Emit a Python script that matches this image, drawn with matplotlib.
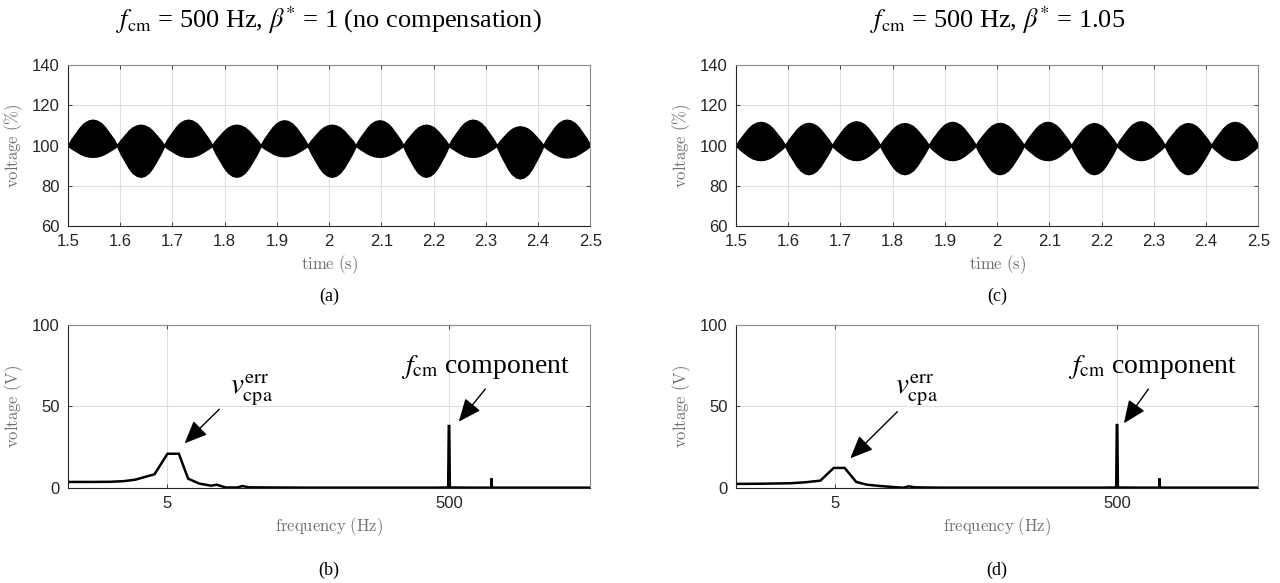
import numpy as np
import matplotlib
matplotlib.use("Agg")
import matplotlib.pyplot as plt
from matplotlib.ticker import FixedLocator, NullLocator, FuncFormatter

# ---- data ------------------------------------------------------------------
# node times where the envelope pinches to 100 %
lobe_nodes = [1.5, 1.594, 1.684, 1.776, 1.869, 1.959, 2.051, 2.142, 2.229,
              2.321, 2.410, 2.5]
# shape of one lobe (fraction of its peak)
lobe_pos = [0.0, 0.08, 0.17, 0.25, 0.33, 0.42, 0.5, 0.58, 0.67, 0.75, 0.83,
            0.92, 1.0]
lobe_shape = [0.0, 0.26, 0.50, 0.71, 0.87, 0.97, 1.0, 0.97, 0.87, 0.71, 0.50,
              0.26, 0.0]

# (a) beta* = 1 : max / min of each lobe (%)
a_upper = [112.7, 110.2, 112.7, 110.2, 112.4, 110.2, 112.4, 110.2, 112.7, 109.4, 112.7]
a_lower = [94.5, 84.6, 94.5, 84.6, 94.8, 84.6, 94.5, 84.6, 94.5, 83.8, 94.2]
# (c) beta* = 1.05
c_upper = [111.6, 111.1, 111.9, 111.0, 111.6, 111.1, 111.6, 111.0, 111.9, 111.0, 111.6]
c_lower = [92.9, 85.9, 92.9, 85.9, 92.9, 85.9, 92.9, 85.9, 92.9, 85.9, 92.9]

# (b) spectrum, beta* = 1
b_freq = [1, 1.5, 2.0, 2.5, 3.0, 4.1, 5.07, 6.1, 7.1, 8.5, 10.3, 11.3, 13.1,
          15.8, 17.2, 19.1, 28, 47, 100, 200, 400, 493, 498, 502, 507, 700,
          995, 998, 1002, 1005, 2000, 5000]
b_amp = [3.7, 3.7, 3.8, 4.2, 5.1, 8.4, 21.0, 21.0, 5.7, 2.7, 1.4, 2.0, 0.3,
         0.3, 1.2, 0.4, 0.3, 0.2, 0.2, 0.2, 0.2, 0.3, 38.0, 38.0, 0.3, 0.2,
         0.2, 5.3, 5.3, 0.2, 0.2, 0.2]

# (d) spectrum, beta* = 1.05
d_freq = [1, 1.5, 2.43, 3.1, 3.96, 4.92, 5.88, 7.1, 8.47, 10.5, 13.8, 15.5,
          16.7, 18.5, 27, 50, 100, 200, 400, 493, 498, 502, 507, 700, 995,
          998, 1002, 1005, 2000, 5000]
d_amp = [2.5, 2.6, 2.9, 3.5, 4.5, 12.3, 12.3, 3.7, 2.0, 1.2, 0.4, 0.2, 1.0,
         0.4, 0.2, 0.2, 0.2, 0.2, 0.2, 0.3, 38.6, 38.6, 0.3, 0.2, 0.2, 5.3,
         5.3, 0.2, 0.2, 0.2]

time_ticks = [1.5, 1.6, 1.7, 1.8, 1.9, 2.0, 2.1, 2.2, 2.3, 2.4, 2.5]
volt_ticks = [60, 80, 100, 120, 140]
freq_ticks = [5, 500]
amp_ticks = [0, 50, 100]

TICK_C = "#262626"
LABEL_C = "#707070"
GRID_C = "#dedede"
SERIF = ["Liberation Serif", "DejaVu Serif"]
SANS = ["Liberation Sans", "DejaVu Sans"]

fig = plt.figure(figsize=(12.8, 5.83), dpi=100)


def style_axes(ax):
    ax.grid(True, color=GRID_C, linewidth=0.8)
    ax.set_axisbelow(True)
    ax.tick_params(direction="in", length=3, width=0.6, colors=TICK_C,
                   labelsize=12, top=True, right=True, pad=6)
    for lab in ax.get_xticklabels() + ax.get_yticklabels():
        lab.set_family(SANS)
    for side in ["left", "bottom"]:
        ax.spines[side].set_color(TICK_C)
        ax.spines[side].set_linewidth(0.8)
    for side in ["top", "right"]:
        ax.spines[side].set_color("#8a8a8a")
        ax.spines[side].set_linewidth(0.8)


def envelope(upper, lower):
    t, hi, lo = [], [], []
    for i in range(len(upper)):
        t0, t1 = lobe_nodes[i], lobe_nodes[i + 1]
        for p, s in zip(lobe_pos, lobe_shape):
            t.append(t0 + (t1 - t0) * p)
            hi.append(100 + (upper[i] - 100) * s)
            lo.append(100 + (lower[i] - 100) * s)
    return np.array(t), np.array(hi), np.array(lo)


def time_panel(rect, upper, lower, title, tag):
    ax = fig.add_axes(rect)
    t, hi, lo = envelope(upper, lower)
    ax.fill_between(t, lo, hi, color="black", linewidth=1.4, edgecolor="black")
    ax.set_xlim(1.5, 2.5)
    ax.set_ylim(60, 140)
    ax.xaxis.set_major_locator(FixedLocator(time_ticks))
    ax.yaxis.set_major_locator(FixedLocator(volt_ticks))
    ax.xaxis.set_major_formatter(FuncFormatter(lambda v, _: f"{v:g}"))
    style_axes(ax)
    ax.set_xlabel(r"$\mathrm{time\ (s)}$", fontsize=12, color=LABEL_C,
                  math_fontfamily="cm", labelpad=3)
    ax.set_ylabel(r"$\mathrm{voltage\ (\%)}$", fontsize=12, color=LABEL_C,
                  math_fontfamily="cm", labelpad=5)
    cx = rect[0] + rect[2] / 2
    fig.text(cx, 0.965, title, ha="center", va="center", fontsize=19,
             family=SERIF, math_fontfamily="stix")
    fig.text(cx, 0.491, tag, ha="center", va="center", fontsize=13,
             family=SERIF)
    return ax


def freq_panel(rect, freq, amp, v_txt, v_tail, v_head, f_txt, f_tail, f_head, tag):
    ax = fig.add_axes(rect)
    ax.plot(freq, amp, color="black", linewidth=1.8, solid_joinstyle="miter")
    ax.set_xscale("log")
    ax.set_xlim(1, 5000)
    ax.set_ylim(0, 100)
    ax.xaxis.set_major_locator(FixedLocator(freq_ticks))
    ax.xaxis.set_minor_locator(NullLocator())
    ax.xaxis.set_major_formatter(FuncFormatter(lambda v, _: f"{v:g}"))
    ax.yaxis.set_major_locator(FixedLocator(amp_ticks))
    style_axes(ax)
    ax.set_xlabel(r"$\mathrm{frequency\ (Hz)}$", fontsize=12, color=LABEL_C,
                  math_fontfamily="cm", labelpad=3)
    ax.set_ylabel(r"$\mathrm{voltage\ (V)}$", fontsize=12, color=LABEL_C,
                  math_fontfamily="cm", labelpad=5)
    arrow = dict(arrowstyle="-|>,head_length=1.4,head_width=0.6",
                 color="black", lw=1.0, shrinkA=0, shrinkB=0)
    ax.annotate("", xy=v_head, xytext=v_tail, arrowprops=arrow)
    ax.annotate("", xy=f_head, xytext=f_tail, arrowprops=arrow)
    ax.text(v_txt[0], v_txt[1], r"$v_{\mathrm{cpa}}^{\mathrm{err}}$",
            ha="center", va="center", fontsize=21, math_fontfamily="stix")
    ax.text(f_txt[0], f_txt[1], r"$f_{\mathrm{cm}}$ component",
            ha="center", va="center", fontsize=20, family=SERIF,
            math_fontfamily="stix")
    cx = rect[0] + rect[2] / 2
    fig.text(cx, 0.022, tag, ha="center", va="center", fontsize=13,
             family=SERIF)
    return ax


W = 0.408
time_panel([0.0531, 0.6123, W, 0.2762], a_upper, a_lower,
           r"$f_{\mathrm{cm}}$ = 500 Hz, $\beta^{*}$ = 1 (no compensation)", "(a)")
time_panel([0.575, 0.6123, W, 0.2762], c_upper, c_lower,
           r"$f_{\mathrm{cm}}$ = 500 Hz, $\beta^{*}$ = 1.05", "(c)")

freq_panel([0.0531, 0.1630, W, 0.2796], b_freq, b_amp,
           (20, 60), (11.8, 48.3), (6.7, 27.4),
           (900, 74), (904, 60.7), (587, 40.7), "(b)")
freq_panel([0.575, 0.1630, W, 0.2796], d_freq, d_amp,
           (19, 60), (13.9, 46.8), (6.45, 18.2),
           (890, 74), (834, 60.7), (559, 39.7), "(d)")

fig.savefig("out.png", dpi=100, facecolor="white")
